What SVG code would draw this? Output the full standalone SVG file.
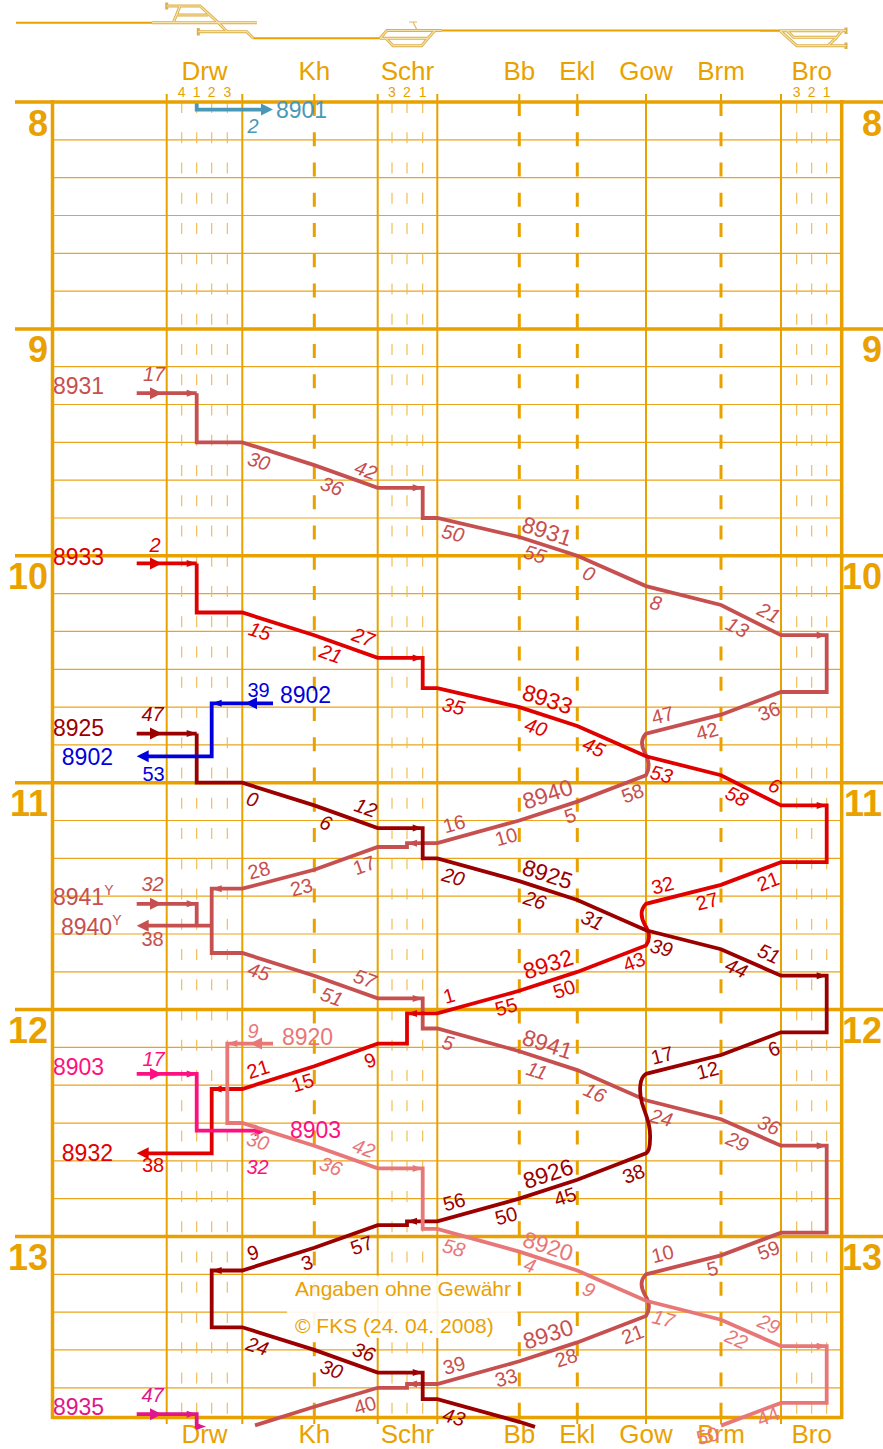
<svg xmlns="http://www.w3.org/2000/svg" width="883" height="1449" viewBox="0 0 883 1449">
<style>
text{font-family:"Liberation Sans",Arial,Helvetica,sans-serif}
.hl{stroke:#e9a100;stroke-width:3.5;fill:none}
.tl{stroke:#eaa51c;stroke-width:1.2;fill:none}
.sv{stroke:#e9a100;stroke-width:2;fill:none}
.dv{stroke:#e9a100;stroke-width:3;fill:none;stroke-dasharray:14 16.25}
.tv{stroke:#f0b848;stroke-width:1.1;fill:none;stroke-dasharray:11 19.25}
.fr{stroke:#e9a100;stroke-width:3.5;fill:none}
.tk{stroke:#e9a100;stroke-width:2;fill:none}
.pl{stroke:#dcb04a;stroke-width:3;fill:none}
.pi{stroke:#f6e2a6;stroke-width:1.2;fill:none}
.st{font-size:26px;fill:#e9a100;text-anchor:middle}
.hr{font-size:36px;font-weight:bold;fill:#e9a100;text-anchor:end}
.tn{font-size:14px;fill:#e9a100;text-anchor:middle}
.tr{fill:none;stroke:currentColor;stroke-width:3.8}
.t{font-size:20px;text-anchor:middle}
.i{font-style:italic}
.n{font-size:23px}
.m{font-size:23px;text-anchor:middle}
.e{text-anchor:end}
.cp{font-size:21px;fill:#e9a100}
</style>
<defs>
<path id="ab" d="M0,0L-12,-6L-12,6Z"/>
<path id="as" d="M0,0L-10,-3.5L-10,3.5Z"/>
</defs>

<g id="track-plan">
<path class="tk" d="M16,22.7H153M253,38.3H381M441,30.5H781M760,30.7H781"/>
<path class="pl" d="M152,22.7H257M166.7,6H200L218.3,22.7M180,6L173.3,22.7M176.7,15H208.3M198.3,31.7H246.7L253.3,38.3M218.3,22.7L227.3,31.7M166.7,2.5V9.5M198.3,28V35.5"/>
<path class="pi" d="M152,22.7H257M166.7,6H200L218.3,22.7M180,6L173.3,22.7M176.7,15H208.3M198.3,31.7H246.7L253.3,38.3M218.3,22.7L227.3,31.7"/>
<path class="pl" d="M380,38.3L387,30.5H441.7M380,38.3H428L435,30.5M386,38.3L393,45.7H421.7L428,38.3"/>
<path class="pi" d="M380,38.3L387,30.5H441.7M380,38.3H428L435,30.5M386,38.3L393,45.7H421.7L428,38.3"/>
<path stroke="#e0b860" stroke-width="1.2" fill="none" d="M409,22H417M413,22L417,30"/>
<path class="pl" d="M780,30.7H846M780,30.7L796.7,45.7H846M787,30.7L793.5,37.3H836.7L842,30.7M828,45.7L836.7,37.3M846,27.5V34M846,42.5V49"/>
<path class="pi" d="M780,30.7H846M780,30.7L796.7,45.7H846M787,30.7L793.5,37.3H836.7L842,30.7M828,45.7L836.7,37.3"/>
</g>

<g id="grid">
<path class="tl" d="M52.5,139.8H841.7M52.5,177.6H841.7M52.5,215.5H841.7M52.5,253.3H841.7M52.5,291.1H841.7M52.5,366.7H841.7M52.5,404.5H841.7M52.5,442.4H841.7M52.5,480.2H841.7M52.5,518H841.7M52.5,593.6H841.7M52.5,631.4H841.7M52.5,669.3H841.7M52.5,707.1H841.7M52.5,744.9H841.7M52.5,820.5H841.7M52.5,858.3H841.7M52.5,896.2H841.7M52.5,934H841.7M52.5,971.8H841.7M52.5,1047.4H841.7M52.5,1085.2H841.7M52.5,1123.1H841.7M52.5,1160.9H841.7M52.5,1198.7H841.7M52.5,1274.3H841.7M52.5,1312.1H841.7M52.5,1349.9H841.7M52.5,1387.8H841.7"/>
<path class="tv" d="M181.7,102V1417M196.7,102V1417M211.7,102V1417M227.3,102V1417M392,102V1417M407,102V1417M422.7,102V1417M796.7,102V1417M811.7,102V1417M826.7,102V1417"/>
<path class="dv" d="M314.3,102V1417M519.3,102V1417M577.3,102V1417M721,102V1417"/>
<path class="sv" d="M314.3,94V102M519.3,94V102M577.3,94V102M721,94V102M314.3,1417V1424M519.3,1417V1424M577.3,1417V1424M721,1417V1424"/>
<path class="sv" d="M166.7,94V1424M242.3,94V1424M377.7,94V1424M437.3,94V1424M646,94V1424M781,94V1424"/>
<path class="hl" d="M15,102H883M15,328.9H883M15,555.8H883M15,782.7H883M15,1009.6H883M15,1236.5H883"/>
<path class="fr" d="M52.5,100V1419M841.7,100V1419M52.5,1417.5H841.7"/>
</g>

<g id="labels-axis">
<text class="st" x="204.5" y="80">Drw</text><text class="st" x="314.3" y="80">Kh</text><text class="st" x="407.5" y="80">Schr</text><text class="st" x="519.3" y="80">Bb</text><text class="st" x="577.3" y="80">Ekl</text><text class="st" x="646" y="80">Gow</text><text class="st" x="721" y="80">Brm</text><text class="st" x="811.7" y="80">Bro</text>
<text class="st" x="204.5" y="1443">Drw</text><text class="st" x="314.3" y="1443">Kh</text><text class="st" x="407.5" y="1443">Schr</text><text class="st" x="519.3" y="1443">Bb</text><text class="st" x="577.3" y="1443">Ekl</text><text class="st" x="646" y="1443">Gow</text><text class="st" x="721" y="1443">Brm</text><text class="st" x="811.7" y="1443">Bro</text>
<text class="tn" x="181.7" y="97">4</text><text class="tn" x="196.7" y="97">1</text><text class="tn" x="211.7" y="97">2</text><text class="tn" x="227.3" y="97">3</text>
<text class="tn" x="392" y="97">3</text><text class="tn" x="407" y="97">2</text><text class="tn" x="422.7" y="97">1</text>
<text class="tn" x="796.7" y="97">3</text><text class="tn" x="811.7" y="97">2</text><text class="tn" x="826.7" y="97">1</text>
<text class="hr" x="48" y="136">8</text><text class="hr" x="48" y="362">9</text><text class="hr" x="48" y="589">10</text><text class="hr" x="48" y="816">11</text><text class="hr" x="48" y="1043">12</text><text class="hr" x="48" y="1270">13</text>
<text class="hr" x="882" y="136">8</text><text class="hr" x="882" y="362">9</text><text class="hr" x="882" y="589">10</text><text class="hr" x="882" y="816">11</text><text class="hr" x="882" y="1043">12</text><text class="hr" x="882" y="1270">13</text>
</g>

<g id="note">
<rect x="287" y="1275.5" width="230" height="62.5" fill="#fff" fill-opacity="0.9"/>
<text class="cp" x="295" y="1296">Angaben ohne Gewähr</text>
<text class="cp" x="295" y="1333">© FKS (24. 04. 2008)</text>
</g>

<g id="connectors">

<g id="train-8901" style="color:#4a98b8;fill:#4a98b8">
<path class="tr" d="M196.7,103.5V109.6H262"/>
<use href="#ab" transform="translate(273 109.6)"/>
<text class="n" x="276" y="118">8901</text>
<text class="t i" x="253" y="132.5">2</text>
</g>

<g id="train-8931" style="color:#c65050;fill:#c65050">
<path class="tr" d="M136.7,393.2H196.7"/>
<path class="tr" d="M196.7,393.2V442.4H242.3L314.3,465.1L377.7,487.8H422.7V518H437.3L519.3,537L577.3,555.8L646,586.1L721,605L781,635.2H826.7V692H781L721,714.7L646,733.6C641,739 641,746 645,753C649,760 650,768 646,775.2L577.3,801.6L519.3,820.5L437.3,843.2H407V847H377.7L314.3,869.8L242.3,888.7H211.7V953H242.3L314.3,975.7L377.7,998.4H422.7V1028.5H437.3L519.3,1051.2L577.3,1070.1L646,1100.3L721,1119.2L781,1145.7H826.7V1232.7H781L721,1255.4L646,1274.3C640,1280 641,1288 645,1295C650,1303 650,1310 646,1315.9L577.3,1342.4L519.3,1361.3L437.3,1384H407V1387.8H377.7L314.3,1406.7L255,1425.4"/>
<path class="tr" d="M211.7,925.7H146M136.7,903.8H196.7V925.7"/>
<use href="#ab" transform="translate(162 393.2)"/><use href="#as" transform="translate(196.7 393.2)"/>
<use href="#as" transform="translate(422.7 487.8)"/><use href="#as" transform="translate(826.7 635.2)"/>
<use href="#as" transform="translate(407 843.2) rotate(180)"/><use href="#as" transform="translate(211.7 888.7) rotate(180)"/>
<use href="#ab" transform="translate(136.7 925.7) rotate(180)"/>
<use href="#ab" transform="translate(162 903.8)"/><use href="#as" transform="translate(196.7 903.8)"/>
<use href="#as" transform="translate(422.7 998.4)"/><use href="#as" transform="translate(826.7 1145.7)"/>
<use href="#as" transform="translate(407 1384) rotate(180)"/>
<text class="n" x="53" y="394">8931</text>
<text class="t i" x="154" y="381">17</text>
<text class="t i" transform="translate(259 461) rotate(17.5)" y="7.2">30</text>
<text class="t i" transform="translate(332 486) rotate(19.7)" y="7.2">36</text>
<text class="t i" transform="translate(366 470) rotate(19.7)" y="7.2">42</text>
<text class="t i" transform="translate(453 533) rotate(13)" y="7.2">50</text>
<text class="m" transform="translate(547 531) rotate(18)" y="8.2">8931</text>
<text class="t i" transform="translate(535 554) rotate(18)" y="7.2">55</text>
<text class="t i" transform="translate(589 573.5) rotate(23.8)" y="7.2">0</text>
<text class="t i" transform="translate(656 602.5) rotate(14.1)" y="7.2">8</text>
<text class="t i" transform="translate(737.5 627) rotate(26.8)" y="7.2">13</text>
<text class="t i" transform="translate(769 612.5) rotate(26.8)" y="7.2">21</text>
<text class="t" transform="translate(769 711) rotate(-20.7)" y="7.2">36</text>
<text class="t" transform="translate(707 731) rotate(-14.1)" y="7.2">42</text>
<text class="t" transform="translate(662.5 715) rotate(-14.1)" y="7.2">47</text>
<text class="t" transform="translate(632.5 793) rotate(-21)" y="7.2">58</text>
<text class="t" transform="translate(570 815.5) rotate(-18)" y="7.2">5</text>
<text class="m" transform="translate(547.5 794) rotate(-18)" y="8.2">8940</text>
<text class="t" transform="translate(506 836.5) rotate(-15.5)" y="7.2">10</text>
<text class="t" transform="translate(454 823.5) rotate(-15.5)" y="7.2">16</text>
<text class="t" transform="translate(364 865) rotate(-19.7)" y="7.2">17</text>
<text class="t" transform="translate(301.5 887) rotate(-15)" y="7.2">23</text>
<text class="t" transform="translate(259 870) rotate(-15)" y="7.2">28</text>
<text class="n" x="61" y="935">8940<tspan font-size="14" dy="-10">Y</tspan></text>
<text class="t" x="152.5" y="946">38</text>
<text class="n" x="53" y="905">8941<tspan font-size="14" dy="-10">Y</tspan></text>
<text class="t i" x="152.5" y="891">32</text>
<text class="t i" transform="translate(259 971.5) rotate(17.5)" y="7.2">45</text>
<text class="t i" transform="translate(332 996.5) rotate(19.7)" y="7.2">51</text>
<text class="t i" transform="translate(365 978.5) rotate(19.7)" y="7.2">57</text>
<text class="t i" transform="translate(448 1042.5) rotate(15.5)" y="7.2">5</text>
<text class="m" transform="translate(547.5 1044) rotate(18)" y="8.2">8941</text>
<text class="t i" transform="translate(537 1070.5) rotate(18)" y="7.2">11</text>
<text class="t i" transform="translate(595 1092.5) rotate(23.8)" y="7.2">16</text>
<text class="t i" transform="translate(661.5 1117.5) rotate(14.1)" y="7.2">24</text>
<text class="t i" transform="translate(737.5 1141.5) rotate(23.8)" y="7.2">29</text>
<text class="t i" transform="translate(769 1125) rotate(23.8)" y="7.2">36</text>
<text class="t" transform="translate(768.5 1250) rotate(-20.7)" y="7.2">59</text>
<text class="t" transform="translate(712.5 1268.5) rotate(-14.1)" y="7.2">5</text>
<text class="t" transform="translate(662.5 1253.5) rotate(-14.1)" y="7.2">10</text>
<text class="t" transform="translate(632.5 1334) rotate(-21)" y="7.2">21</text>
<text class="m" transform="translate(548 1334) rotate(-18)" y="8.2">8930</text>
<text class="t" transform="translate(566 1357.5) rotate(-18)" y="7.2">28</text>
<text class="t" transform="translate(506 1377.5) rotate(-15.5)" y="7.2">33</text>
<text class="t" transform="translate(454 1365) rotate(-15.5)" y="7.2">39</text>
<text class="t" transform="translate(365 1405) rotate(-16.6)" y="7.2">40</text>
</g>

<g id="train-8933" style="color:#e00000;fill:#e00000">
<path class="tr" d="M136.7,563.4H196.7"/>
<path class="tr" d="M196.7,563.4V612.5H242.3L314.3,635.2L377.7,657.9H422.7V688.2H437.3L519.3,707.1L577.3,726L646,756.3L721,775.2L781,805.4H826.7V862.2H781L721,884.9L646,903.8C640,910 641,918 645,925C650,933 650,940 646,945.4L577.3,971.9L519.3,990.8L437.3,1013.4H407V1043.6H377.7L314.3,1066.3L242.3,1089H211.7V1153.3H146"/>
<use href="#ab" transform="translate(162 563.4)"/><use href="#as" transform="translate(196.7 563.4)"/>
<use href="#as" transform="translate(422.7 657.9)"/><use href="#as" transform="translate(826.7 805.4)"/>
<use href="#as" transform="translate(407 1013.4) rotate(180)"/><use href="#as" transform="translate(211.7 1089) rotate(180)"/>
<use href="#ab" transform="translate(136.7 1153.3) rotate(180)"/>
<text class="n" x="53" y="565">8933</text>
<text class="t i" x="155" y="552">2</text>
<text class="t i" transform="translate(260 631) rotate(17.5)" y="7.2">15</text>
<text class="t i" transform="translate(331 653.5) rotate(19.7)" y="7.2">21</text>
<text class="t i" transform="translate(363.5 637) rotate(19.7)" y="7.2">27</text>
<text class="t i" transform="translate(453.5 706) rotate(13)" y="7.2">35</text>
<text class="m" transform="translate(547.5 699) rotate(18)" y="8.2">8933</text>
<text class="t i" transform="translate(536 727) rotate(18)" y="7.2">40</text>
<text class="t i" transform="translate(594 747) rotate(23.8)" y="7.2">45</text>
<text class="t i" transform="translate(661.5 774) rotate(14.1)" y="7.2">53</text>
<text class="t i" transform="translate(737 796) rotate(26.8)" y="7.2">58</text>
<text class="t i" transform="translate(775 785.5) rotate(26.8)" y="7.2">6</text>
<text class="t" transform="translate(768 881) rotate(-20.7)" y="7.2">21</text>
<text class="t" transform="translate(707 901) rotate(-14.1)" y="7.2">27</text>
<text class="t" transform="translate(662.5 885) rotate(-14.1)" y="7.2">32</text>
<text class="t" transform="translate(634 961.5) rotate(-21)" y="7.2">43</text>
<text class="m" transform="translate(548 964) rotate(-18)" y="8.2">8932</text>
<text class="t" transform="translate(564 989) rotate(-18)" y="7.2">50</text>
<text class="t" transform="translate(506 1006.5) rotate(-15.5)" y="7.2">55</text>
<text class="t" transform="translate(449 995.5) rotate(-15.5)" y="7.2">1</text>
<text class="t" transform="translate(370 1060) rotate(-19.7)" y="7.2">9</text>
<text class="t" transform="translate(302.5 1082.5) rotate(-17.5)" y="7.2">15</text>
<text class="t" transform="translate(258 1069) rotate(-17.5)" y="7.2">21</text>
<text class="n e" x="113" y="1161">8932</text>
<text class="t" x="153" y="1172">38</text>
</g>

<g id="train-8925" style="color:#9a0000;fill:#9a0000">
<path class="tr" d="M136.7,733.6H196.7"/>
<path class="tr" d="M196.7,733.6V782.7H242.3L314.3,805.4L377.7,828.1H422.7V858.4H437.3L519.3,881.1L577.3,900L646,930.3L721,949.2L781,975.7H826.7V1032.3H781L721,1055L646,1073.9C639,1078 639,1092 642,1103C646,1116 651,1125 650,1140C650,1148 648,1152 646,1153.3L577.3,1179.7L519.3,1198.6L437.3,1221.3H407V1225.1H377.7L314.3,1247.8L242.3,1270.5H211.7V1327.3H242.3L314.3,1349.9L377.7,1372.6H422.7V1399.1H437.3L519.3,1421.8L535,1426.9"/>
<use href="#ab" transform="translate(162 733.6)"/><use href="#as" transform="translate(196.7 733.6)"/>
<use href="#as" transform="translate(422.7 828.1)"/><use href="#as" transform="translate(826.7 975.7)"/>
<use href="#as" transform="translate(407 1221.3) rotate(180)"/><use href="#as" transform="translate(211.7 1270.5) rotate(180)"/>
<use href="#as" transform="translate(422.7 1372.6)"/>
<text class="n" x="53" y="736">8925</text>
<text class="t i" x="152.5" y="721">47</text>
<text class="t i" transform="translate(252.5 799) rotate(17.5)" y="7.2">0</text>
<text class="t i" transform="translate(326 822.5) rotate(19.7)" y="7.2">6</text>
<text class="t i" transform="translate(366 807.5) rotate(19.7)" y="7.2">12</text>
<text class="t i" transform="translate(453.5 876.5) rotate(15.5)" y="7.2">20</text>
<text class="m" transform="translate(547.5 874) rotate(18)" y="8.2">8925</text>
<text class="t i" transform="translate(535 900) rotate(18)" y="7.2">26</text>
<text class="t i" transform="translate(592.5 920) rotate(23.8)" y="7.2">31</text>
<text class="t i" transform="translate(661.5 947.5) rotate(14.1)" y="7.2">39</text>
<text class="t i" transform="translate(736.5 968) rotate(23.8)" y="7.2">44</text>
<text class="t i" transform="translate(769 953.5) rotate(23.8)" y="7.2">51</text>
<text class="t" transform="translate(774 1048.5) rotate(-20.7)" y="7.2">6</text>
<text class="t" transform="translate(707.5 1070) rotate(-14.1)" y="7.2">12</text>
<text class="t" transform="translate(662 1055) rotate(-14.1)" y="7.2">17</text>
<text class="t" transform="translate(633.5 1173.5) rotate(-21)" y="7.2">38</text>
<text class="m" transform="translate(548 1173.5) rotate(-18)" y="8.2">8926</text>
<text class="t" transform="translate(565 1196.5) rotate(-18)" y="7.2">45</text>
<text class="t" transform="translate(506 1215.5) rotate(-15.5)" y="7.2">50</text>
<text class="t" transform="translate(454 1201.5) rotate(-15.5)" y="7.2">56</text>
<text class="t" transform="translate(361.5 1245) rotate(-19.7)" y="7.2">57</text>
<text class="t" transform="translate(307 1262.5) rotate(-17.5)" y="7.2">3</text>
<text class="t" transform="translate(253 1252.5) rotate(-17.5)" y="7.2">9</text>
<text class="t i" transform="translate(257.5 1346) rotate(17.5)" y="7.2">24</text>
<text class="t i" transform="translate(331.7 1369) rotate(19.7)" y="7.2">30</text>
<text class="t i" transform="translate(364 1351.7) rotate(19.7)" y="7.2">36</text>
<text class="t i" transform="translate(454 1416.7) rotate(15.5)" y="7.2">43</text>
</g>

<g id="train-8902" style="color:#0000dd;fill:#0000dd">
<path class="tr" d="M273,703.3H211.7V756.3H146"/>
<use href="#ab" transform="translate(245 703.3) rotate(180)"/><use href="#as" transform="translate(211.7 703.3) rotate(180)"/>
<use href="#ab" transform="translate(136.7 756.3) rotate(180)"/>
<text class="t" x="258.5" y="697">39</text>
<text class="n" x="280" y="703">8902</text>
<text class="n e" x="113" y="765">8902</text>
<text class="t" x="153.5" y="781">53</text>
</g>

<g id="train-8903" style="color:#ff1080;fill:#ff1080">
<path class="tr" d="M136.7,1073.9H196.7V1130.6H256"/>
<use href="#ab" transform="translate(162 1073.9)"/><use href="#as" transform="translate(196.7 1073.9)"/>
<use href="#ab" transform="translate(266.7 1130.6)"/>
<text class="n" x="53" y="1075">8903</text>
<text class="t i" x="153.5" y="1066">17</text>
<text class="n" x="290" y="1138">8903</text>
<text class="t i" x="257.5" y="1173.5">32</text>
</g>

<g id="train-8920" style="color:#e87878;fill:#e87878">
<path class="tr" d="M273,1043.6H227.3V1123H242.3L314.3,1145.7L377.7,1168.4H422.7V1228.9H437.3L519.3,1251.6L577.3,1270.5L646,1300.8L721,1319.7L781,1346.2H826.7V1402.9H781L721,1425.6"/>
<use href="#ab" transform="translate(250 1043.6) rotate(180)"/><use href="#as" transform="translate(227.3 1043.6) rotate(180)"/>
<use href="#as" transform="translate(422.7 1168.4)"/><use href="#as" transform="translate(826.7 1346.2)"/>
<text class="t i" x="253" y="1037.5">9</text>
<text class="n" x="282" y="1045">8920</text>
<text class="t i" transform="translate(258 1141) rotate(17.5)" y="7.2">30</text>
<text class="t i" transform="translate(331 1166) rotate(19.7)" y="7.2">36</text>
<text class="t i" transform="translate(364 1148) rotate(19.7)" y="7.2">42</text>
<text class="t i" transform="translate(454 1247.5) rotate(15.5)" y="7.2">58</text>
<text class="m" transform="translate(548 1246) rotate(18)" y="8.2">8920</text>
<text class="t i" transform="translate(530 1265) rotate(18)" y="7.2">4</text>
<text class="t i" transform="translate(589 1289.5) rotate(23.8)" y="7.2">9</text>
<text class="t i" transform="translate(663.5 1318.5) rotate(14.1)" y="7.2">17</text>
<text class="t i" transform="translate(736.5 1339) rotate(23.8)" y="7.2">22</text>
<text class="t i" transform="translate(769 1324) rotate(23.8)" y="7.2">29</text>
<text class="t" transform="translate(768 1416) rotate(-20.7)" y="7.2">44</text>
<text class="t" transform="translate(707.5 1435.5) rotate(-14.1)" y="7.2">50</text>
</g>

<g id="train-8935" style="color:#e0168a;fill:#e0168a">
<path class="tr" d="M136.7,1414.2H196.7V1426.5H200"/>
<use href="#ab" transform="translate(162 1414.2)"/><use href="#as" transform="translate(196.7 1414.2)"/>
<use href="#as" transform="translate(206 1426.5)"/>
<text class="n" x="53" y="1415">8935</text>
<text class="t i" x="152.5" y="1402">47</text>
</g>

</g>
</svg>
